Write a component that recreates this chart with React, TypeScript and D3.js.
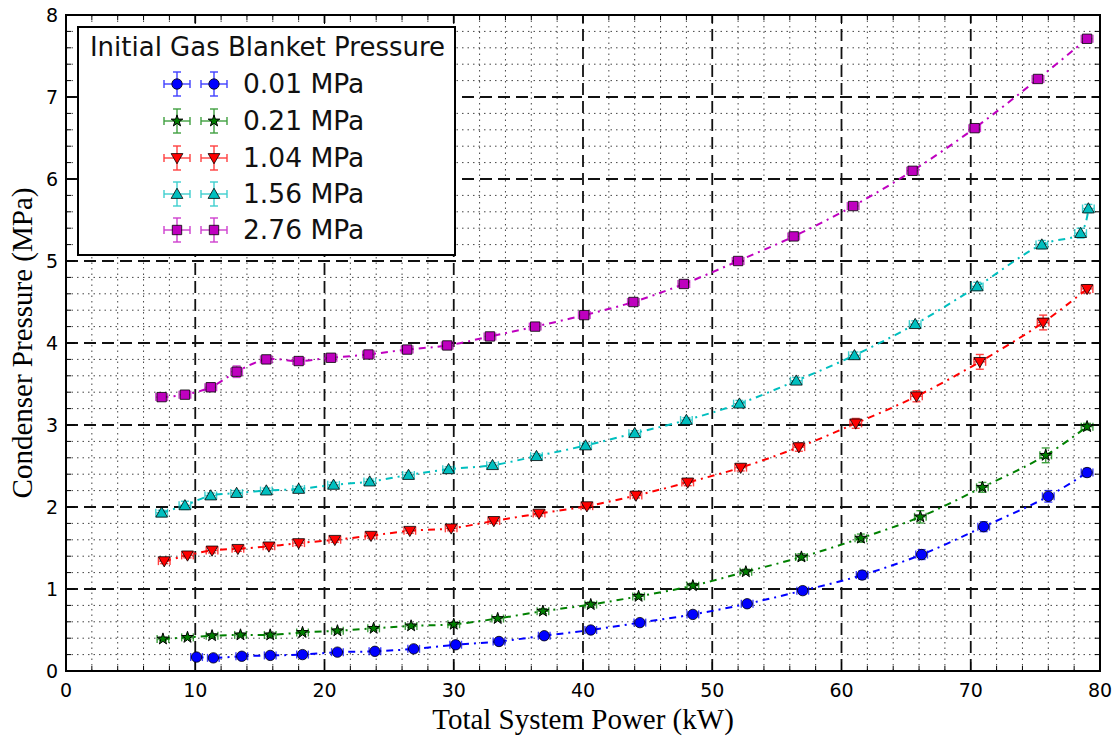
import React from "react";
import * as d3 from "d3";

// ---- data ----
const blueX = [10.1, 11.4, 13.6, 15.8, 18.3, 21.0, 23.9, 26.9, 30.15, 33.5, 37.0, 40.6, 44.4, 48.5, 52.7, 57.0, 61.6, 66.2, 71.0, 76.0, 79.0];
const blueY = [0.17, 0.16, 0.18, 0.19, 0.20, 0.23, 0.24, 0.27, 0.32, 0.36, 0.43, 0.50, 0.59, 0.69, 0.82, 0.98, 1.17, 1.42, 1.76, 2.13, 2.42];
const blueErr = [0.02, 0.02, 0.02, 0.02, 0.02, 0.02, 0.02, 0.02, 0.02, 0.02, 0.03, 0.03, 0.03, 0.03, 0.03, 0.04, 0.05, 0.06, 0.06, 0.07, 0.05];

const greenX = [7.5, 9.4, 11.3, 13.5, 15.8, 18.3, 21.0, 23.8, 26.7, 30.0, 33.4, 36.9, 40.6, 44.3, 48.5, 52.6, 56.9, 61.5, 66.1, 70.9, 75.8, 79.0];
const greenY = [0.39, 0.41, 0.43, 0.44, 0.44, 0.47, 0.49, 0.52, 0.55, 0.57, 0.64, 0.73, 0.81, 0.91, 1.04, 1.21, 1.39, 1.62, 1.88, 2.24, 2.63, 2.98];
const greenErr = [0.02, 0.02, 0.02, 0.02, 0.02, 0.02, 0.02, 0.02, 0.02, 0.02, 0.02, 0.03, 0.03, 0.03, 0.03, 0.03, 0.04, 0.05, 0.075, 0.06, 0.09, 0.04];

const redX = [7.6, 9.4, 11.3, 13.3, 15.7, 18.0, 20.8, 23.6, 26.6, 29.8, 33.1, 36.6, 40.3, 44.1, 48.1, 52.2, 56.7, 61.1, 65.8, 70.7, 75.6, 79.0];
const redY = [1.34, 1.41, 1.47, 1.49, 1.52, 1.56, 1.60, 1.65, 1.71, 1.74, 1.83, 1.92, 2.01, 2.14, 2.30, 2.48, 2.73, 3.02, 3.35, 3.77, 4.25, 4.66];
const redErr = [0.03, 0.03, 0.03, 0.03, 0.03, 0.03, 0.03, 0.03, 0.03, 0.03, 0.03, 0.03, 0.03, 0.03, 0.04, 0.04, 0.05, 0.06, 0.067, 0.09, 0.09, 0.05];

const cyanX = [7.4, 9.2, 11.2, 13.2, 15.5, 18.0, 20.7, 23.5, 26.5, 29.6, 33.0, 36.4, 40.2, 44.0, 48.0, 52.1, 56.5, 61.0, 65.7, 70.5, 75.5, 78.5, 79.1];
const cyanY = [1.93, 2.02, 2.14, 2.17, 2.20, 2.22, 2.27, 2.31, 2.39, 2.46, 2.51, 2.62, 2.75, 2.90, 3.06, 3.26, 3.54, 3.85, 4.23, 4.69, 5.20, 5.34, 5.64];
const cyanErr = [0.03, 0.05, 0.03, 0.03, 0.03, 0.03, 0.03, 0.03, 0.03, 0.03, 0.03, 0.03, 0.03, 0.03, 0.03, 0.04, 0.04, 0.04, 0.04, 0.05, 0.05, 0.06, 0.05];

const magX = [7.4, 9.2, 11.2, 13.2, 15.5, 18.0, 20.5, 23.4, 26.4, 29.5, 32.8, 36.3, 40.1, 43.9, 47.8, 52.0, 56.3, 60.9, 65.5, 70.3, 75.2, 79.0];
const magY = [3.34, 3.37, 3.46, 3.65, 3.80, 3.78, 3.82, 3.86, 3.92, 3.97, 4.08, 4.20, 4.34, 4.50, 4.72, 5.00, 5.30, 5.67, 6.10, 6.62, 7.22, 7.71];
const magErr = [0.03, 0.03, 0.05, 0.07, 0.03, 0.03, 0.03, 0.03, 0.03, 0.03, 0.03, 0.03, 0.03, 0.03, 0.03, 0.03, 0.03, 0.03, 0.03, 0.04, 0.04, 0.04];

const seriesLabels = ["0.01 MPa", "0.21 MPa", "1.04 MPa", "1.56 MPa", "2.76 MPa"];
const legendTitle = "Initial Gas Blanket Pressure";
const xTicks = [0, 10, 20, 30, 40, 50, 60, 70, 80];
const yTicks = [0, 1, 2, 3, 4, 5, 6, 7, 8];
const xLabel = "Total System Power (kW)";
const yLabel = "Condenser Pressure (MPa)";

type Shape = "circle" | "star" | "down" | "up" | "square";
const series = [
  { label: seriesLabels[0], xs: blueX, ys: blueY, err: blueErr, color: "#0000ff", shape: "circle" as Shape },
  { label: seriesLabels[1], xs: greenX, ys: greenY, err: greenErr, color: "#008000", shape: "star" as Shape },
  { label: seriesLabels[2], xs: redX, ys: redY, err: redErr, color: "#ff0000", shape: "down" as Shape },
  { label: seriesLabels[3], xs: cyanX, ys: cyanY, err: cyanErr, color: "#00bfbf", shape: "up" as Shape },
  { label: seriesLabels[4], xs: magX, ys: magY, err: magErr, color: "#bf00bf", shape: "square" as Shape },
];
const X_ERR = 0.45;

const W = 1118, H = 740;
const x = d3.scaleLinear().domain([0, 80]).range([66, 1100]);
const y = d3.scaleLinear().domain([0, 8]).range([671, 15]);

const symPath = (shape: Shape): string => {
  const t =
    shape === "circle" ? d3.symbolCircle :
    shape === "star" ? d3.symbolStar :
    shape === "square" ? d3.symbolSquare : d3.symbolTriangle;
  const size = shape === "circle" ? 85 : shape === "star" ? 42 : shape === "square" ? 88 : 60;
  return d3.symbol().type(t).size(size)() as string;
};

function Marker({ cx, cy, shape, color }: { cx: number; cy: number; shape: Shape; color: string }) {
  const rot = shape === "down" ? 180 : 0;
  const dy = shape === "down" ? -1 : shape === "up" ? 1 : 0;
  return (
    <path
      d={symPath(shape)}
      transform={`translate(${cx},${cy + dy}) rotate(${rot})`}
      fill={color}
      stroke="#000"
      strokeWidth={shape === "star" ? 1 : 0.8}
    />
  );
}

function ErrBar({ cx, cy, dx, dyv, color }: { cx: number; cy: number; dx: number; dyv: number; color: string }) {
  const cap = 4;
  return (
    <g stroke={color} strokeWidth={1.4} opacity={0.75}>
      <line x1={cx - dx} x2={cx + dx} y1={cy} y2={cy} />
      <line x1={cx - dx} x2={cx - dx} y1={cy - cap} y2={cy + cap} />
      <line x1={cx + dx} x2={cx + dx} y1={cy - cap} y2={cy + cap} />
      <line x1={cx} x2={cx} y1={cy - dyv} y2={cy + dyv} />
      <line x1={cx - cap} x2={cx + cap} y1={cy - dyv} y2={cy - dyv} />
      <line x1={cx - cap} x2={cx + cap} y1={cy + dyv} y2={cy + dyv} />
    </g>
  );
}

export default function App() {
  const minorX = d3.range(0, 81, 2).filter((v) => v % 10 !== 0);
  const minorY = d3.range(0, 40).map((i) => i * 0.2).filter((v) => Math.abs(v - Math.round(v)) > 1e-6);
  const lineGen = d3
    .line<[number, number]>()
    .x((d) => x(d[0]))
    .y((d) => y(d[1]))
    .curve(d3.curveCatmullRom.alpha(0.5));

  const [x0, x1] = x.range();
  const [y0, y1] = y.range();
  const sans = "'DejaVu Sans', sans-serif";
  const serif = "'Liberation Serif', 'Times New Roman', serif";

  const legX = 78, legY = 27, legW = 377, legH = 228;
  const rowY = [84, 121, 158, 194, 230];

  return (
    <svg width={W} height={H} style={{ position: "absolute", left: 0, top: 0, background: "#fff" }}>
      <rect x={0} y={0} width={W} height={H} fill="#fff" />
      {/* minor grid */}
      <g stroke="#444" strokeWidth={1} strokeDasharray="1.5,4">
        {minorX.map((v) => (
          <line key={"mx" + v} x1={x(v)} x2={x(v)} y1={y0} y2={y1} />
        ))}
        {minorY.map((v) => (
          <line key={"my" + v} x1={x0} x2={x1} y1={y(v)} y2={y(v)} />
        ))}
      </g>
      {/* major grid */}
      <g stroke="#111" strokeWidth={1.8} strokeDasharray="12,6">
        {xTicks.slice(1, -1).map((v) => (
          <line key={"Mx" + v} x1={x(v)} x2={x(v)} y1={y0} y2={y1} />
        ))}
        {yTicks.slice(1, -1).map((v) => (
          <line key={"My" + v} x1={x0} x2={x1} y1={y(v)} y2={y(v)} />
        ))}
      </g>
      {/* fit lines */}
      {series.map((s) => (
        <path
          key={"l" + s.label}
          d={lineGen(s.xs.map((v, i) => [v, s.ys[i]] as [number, number])) as string}
          fill="none"
          stroke={s.color}
          strokeWidth={2}
          strokeDasharray="7,5,2,5"
        />
      ))}
      {/* error bars */}
      {series.map((s) =>
        s.xs.map((v, i) => (
          <ErrBar
            key={"e" + s.label + i}
            cx={x(v)}
            cy={y(s.ys[i])}
            dx={x(v + X_ERR) - x(v)}
            dyv={y(0) - y(s.err[i])}
            color={s.color}
          />
        ))
      )}
      {/* markers */}
      {series.map((s) =>
        s.xs.map((v, i) => (
          <Marker key={"m" + s.label + i} cx={x(v)} cy={y(s.ys[i])} shape={s.shape} color={s.color} />
        ))
      )}
      {/* ticks */}
      <g stroke="#000" strokeWidth={1}>
        {xTicks.map((v) => (
          <g key={"tx" + v}>
            <line x1={x(v)} x2={x(v)} y1={y0} y2={y0 - 9} />
            <line x1={x(v)} x2={x(v)} y1={y1} y2={y1 + 9} />
          </g>
        ))}
        {minorX.map((v) => (
          <g key={"tmx" + v}>
            <line x1={x(v)} x2={x(v)} y1={y0} y2={y0 - 5} />
            <line x1={x(v)} x2={x(v)} y1={y1} y2={y1 + 5} />
          </g>
        ))}
        {yTicks.map((v) => (
          <g key={"ty" + v}>
            <line x1={x0} x2={x0 + 9} y1={y(v)} y2={y(v)} />
            <line x1={x1} x2={x1 - 9} y1={y(v)} y2={y(v)} />
          </g>
        ))}
        {minorY.map((v) => (
          <g key={"tmy" + v}>
            <line x1={x0} x2={x0 + 5} y1={y(v)} y2={y(v)} />
            <line x1={x1} x2={x1 - 5} y1={y(v)} y2={y(v)} />
          </g>
        ))}
      </g>
      {/* frame */}
      <rect x={x0} y={y1} width={x1 - x0} height={y0 - y1} fill="none" stroke="#000" strokeWidth={2} />
      {/* tick labels */}
      <g fontFamily={sans} fontSize={19} fill="#000">
        {xTicks.map((v) => (
          <text key={"lx" + v} x={x(v)} y={697} textAnchor="middle">
            {v}
          </text>
        ))}
        {yTicks.map((v) => (
          <text key={"ly" + v} x={58} y={y(v) + 7} textAnchor="end">
            {v}
          </text>
        ))}
      </g>
      {/* axis labels */}
      <text x={(x0 + x1) / 2} y={729} textAnchor="middle" fontFamily={serif} fontSize={29} fill="#000">
        {xLabel}
      </text>
      <text
        transform={`translate(32,${(y0 + y1) / 2}) rotate(-90)`}
        textAnchor="middle"
        fontFamily={serif}
        fontSize={29}
        fill="#000"
      >
        {yLabel}
      </text>
      {/* legend */}
      <rect x={legX} y={legY} width={legW} height={legH} fill="#fff" stroke="#000" strokeWidth={2} />
      <text x={legX + legW / 2 + 1} y={56} textAnchor="middle" fontFamily={sans} fontSize={26} fill="#111">
        {legendTitle}
      </text>
      {series.map((s, i) => (
        <g key={"leg" + s.label}>
          {[177, 214].map((mx) => (
            <g key={mx}>
              <ErrBar cx={mx} cy={rowY[i]} dx={13} dyv={12} color={s.color} />
              <Marker cx={mx} cy={rowY[i]} shape={s.shape} color={s.color} />
            </g>
          ))}
          <text x={243} y={rowY[i] + 9} fontFamily={sans} fontSize={26.5} fill="#111">
            {s.label}
          </text>
        </g>
      ))}
    </svg>
  );
}
